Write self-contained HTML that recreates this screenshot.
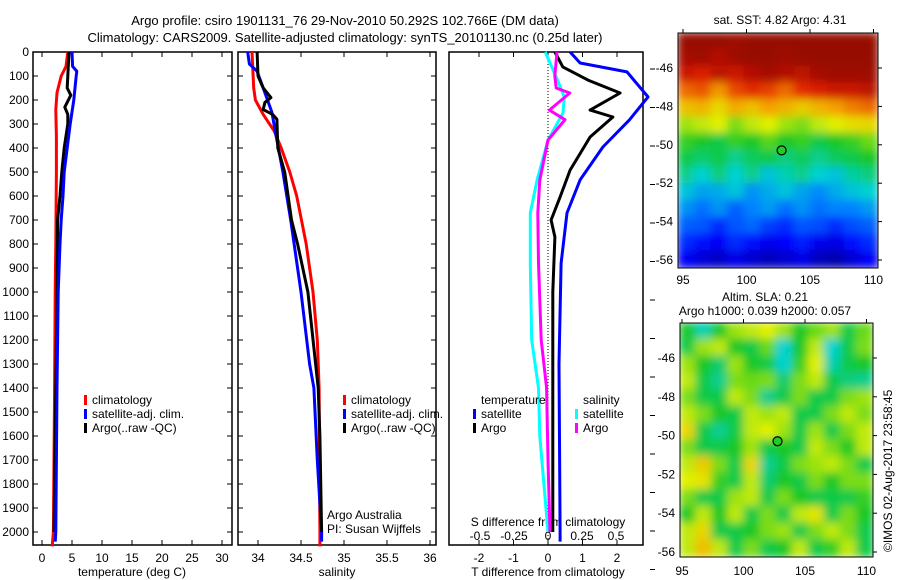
<!DOCTYPE html>
<html><head><meta charset="utf-8"><style>
body{margin:0;background:#fff;}
svg{display:block;font-family:"Liberation Sans",sans-serif;}
text{font-size:12px;fill:#000;}
</style></head><body>
<svg id="c" width="900" height="580" viewBox="0 0 900 580">
<defs>
<filter id="bl" filterUnits="userSpaceOnUse" x="650" y="0" width="260" height="580"><feGaussianBlur stdDeviation="4.5"/></filter>
<clipPath id="cm1"><rect x="678" y="33" width="200" height="235"/></clipPath>
<clipPath id="cm2"><rect x="680" y="323" width="193" height="234"/></clipPath>
</defs>
<text x="345" y="25" text-anchor="middle" style="font-size:13px">Argo profile: csiro 1901131_76 29-Nov-2010 50.292S 102.766E (DM data)</text>
<text x="345" y="42" text-anchor="middle" style="font-size:13px">Climatology: CARS2009. Satellite-adjusted climatology: synTS_20101130.nc (0.25d later)</text>
<text x="780" y="24" text-anchor="middle">sat. SST: 4.82 Argo: 4.31</text>
<text x="765" y="301" text-anchor="middle">Altim. SLA: 0.21</text>
<text x="765" y="315" text-anchor="middle">Argo h1000: 0.039 h2000: 0.057</text>
<text transform="translate(892,552) rotate(-90)">©IMOS 02-Aug-2017 23:58:45</text>
<g id="g"></g>
</svg>
<script>
// ---------- data ----------
const depthTicks=[0,100,200,300,400,500,600,700,800,900,1000,1100,1200,1300,1400,1500,1600,1700,1800,1900,2000];
const tempTicks=[0,5,10,15,20,25,30];
const salTicks=[34,34.5,35,35.5,36];
const tdTicks=[-2,-1,0,1,2];
const sdTicks=[-0.5,-0.25,0,0.25,0.5];
// temperature profiles [pressure, value]
const tempClimP=[0,60,100,170,240,350,500,800,1000,1400,2000,2060];
const tempClimV=[4.3,4.0,3.2,2.5,2.3,2.4,2.4,2.3,2.2,2.1,1.9,1.7];
const tempSatP=[0,60,80,100,200,300,400,500,600,700,800,1000,1400,2000,2040];
const tempSatV=[5.0,5.1,5.8,5.7,5.3,4.7,4.2,3.7,3.5,3.2,3.0,2.7,2.5,2.3,2.2];
const tempArgoP=[0,100,150,180,230,260,300,400,500,600,700,1000,1400,2000];
const tempArgoV=[4.5,4.3,4.2,4.8,3.8,4.3,4.3,3.7,3.3,3.0,2.6,2.5,2.3,2.0];
// salinity profiles
const salClimP=[0,150,200,260,330,400,500,600,800,1000,1200,1400,2000,2060];
const salClimV=[33.93,33.95,33.97,34.06,34.19,34.27,34.37,34.45,34.56,34.64,34.69,34.71,34.72,34.72];
const salSatP=[0,50,80,150,250,350,500,700,1000,1300,1400,1700,2000,2040];
const salSatV=[33.88,33.9,33.99,34.06,34.16,34.21,34.29,34.38,34.5,34.6,34.65,34.69,34.74,34.74];
const salArgoP=[0,100,150,190,210,240,260,280,400,500,700,800,1000,1400,1600,2000];
const salArgoV=[33.99,34.0,34.06,34.15,34.08,34.06,34.17,34.22,34.23,34.31,34.39,34.46,34.58,34.7,34.72,34.74];
// differences
const tdSatP=[0,46,83,187,283,396,533,671,880,1300,2000,2040];
const tdSatV=[0.64,0.93,2.29,2.9,2.36,1.59,0.93,0.55,0.38,0.32,0.35,0.35];
const tdArgoP=[0,62,117,171,242,271,354,492,604,700,771,1000,2000];
const tdArgoV=[0.2,0.43,1.16,2.09,1.22,1.88,1.22,0.64,0.35,0.09,0.2,0.14,0.14];
const sdSatP=[0,117,187,254,367,533,671,880,1200,1400,1600,2000];
const sdSatV=[-0.02,0.07,0.12,0.11,0,-0.08,-0.13,-0.13,-0.12,-0.07,-0.06,0];
const sdArgoP=[0,100,150,171,242,282,367,533,671,880,1200,1400,1700,2000];
const sdArgoV=[0.066,0.05,0.06,0.16,0.01,0.125,0.0,-0.06,-0.075,-0.07,-0.05,-0.01,0,0.015];
// maps (rows top->bottom, colormap index 0..1)
const sstGrid=[
[0.97,0.97,0.97,0.96,0.97,0.97,0.97,0.97,0.97,0.97,0.97,0.97],
[0.95,0.96,0.93,0.96,0.97,0.97,0.96,0.97,0.97,0.97,0.97,0.97],
[0.9,0.88,0.92,0.9,0.93,0.95,0.93,0.92,0.95,0.96,0.96,0.96],
[0.8,0.82,0.76,0.83,0.86,0.84,0.8,0.86,0.88,0.9,0.9,0.92],
[0.7,0.72,0.66,0.73,0.7,0.75,0.72,0.68,0.72,0.75,0.78,0.8],
[0.58,0.6,0.62,0.56,0.6,0.62,0.58,0.56,0.6,0.62,0.65,0.66],
[0.52,0.5,0.48,0.52,0.5,0.54,0.5,0.52,0.48,0.5,0.52,0.55],
[0.48,0.46,0.48,0.44,0.47,0.48,0.45,0.47,0.44,0.47,0.48,0.5],
[0.44,0.4,0.45,0.4,0.44,0.38,0.42,0.44,0.4,0.38,0.43,0.45],
[0.38,0.34,0.35,0.38,0.32,0.35,0.38,0.34,0.31,0.35,0.38,0.4],
[0.32,0.28,0.32,0.26,0.3,0.33,0.28,0.32,0.28,0.3,0.3,0.33],
[0.26,0.25,0.2,0.25,0.27,0.22,0.2,0.25,0.24,0.2,0.24,0.26],
[0.2,0.16,0.14,0.2,0.16,0.13,0.15,0.18,0.13,0.12,0.16,0.2],
[0.14,0.1,0.08,0.12,0.09,0.07,0.09,0.12,0.07,0.05,0.1,0.14]];
const slaGrid=[
[0.5,0.42,0.5,0.58,0.6,0.62,0.58,0.5,0.55,0.58,0.48,0.55],
[0.48,0.58,0.6,0.5,0.48,0.55,0.4,0.5,0.6,0.4,0.48,0.56],
[0.58,0.5,0.46,0.58,0.5,0.48,0.4,0.52,0.62,0.42,0.48,0.5],
[0.6,0.48,0.44,0.56,0.55,0.56,0.46,0.56,0.6,0.48,0.45,0.44],
[0.56,0.48,0.48,0.6,0.56,0.44,0.48,0.56,0.48,0.48,0.56,0.58],
[0.6,0.56,0.5,0.48,0.6,0.58,0.6,0.48,0.48,0.56,0.6,0.56],
[0.66,0.48,0.44,0.48,0.6,0.62,0.58,0.48,0.58,0.48,0.56,0.6],
[0.56,0.48,0.48,0.5,0.58,0.48,0.5,0.48,0.6,0.56,0.5,0.6],
[0.6,0.68,0.56,0.48,0.66,0.44,0.48,0.56,0.58,0.6,0.56,0.48],
[0.62,0.64,0.52,0.48,0.6,0.46,0.5,0.48,0.56,0.5,0.56,0.56],
[0.56,0.48,0.48,0.58,0.6,0.48,0.56,0.5,0.48,0.48,0.48,0.52],
[0.5,0.6,0.5,0.6,0.48,0.56,0.48,0.6,0.64,0.48,0.56,0.5],
[0.6,0.66,0.48,0.48,0.5,0.56,0.58,0.48,0.56,0.6,0.56,0.48],
[0.6,0.7,0.6,0.48,0.56,0.48,0.5,0.6,0.48,0.52,0.6,0.48]];
const floatLon=102.766, floatLat=-50.292;

// ---------- helpers ----------
const NS="http://www.w3.org/2000/svg";
const G=document.getElementById('g');
function el(t,a,p){const e=document.createElementNS(NS,t);for(const k in a)e.setAttribute(k,a[k]);(p||G).appendChild(e);return e;}
const yTop=52, yScale=0.24;
const yP=p=>yTop+p*yScale;
const panels=[
 {x0:33,x1:232,sx:v=>42+6*v,name:'temperature'},
 {x0:238,x1:436,sx:v=>258+86*(v-34),name:'salinity'},
 {x0:449,x1:643,sx:v=>548+34.5*v,name:'difference'}];
const sdX=v=>548+136*v;
const yB=545;
panels.forEach((pn,i)=>{
 const r=el('rect',{x:pn.x0,y:yTop,width:pn.x1-pn.x0,height:yB-yTop,fill:'none',stroke:'#000','stroke-width':1.5});
 
 
 if(i<2){depthTicks.forEach(d=>{el('line',{x1:pn.x0,x2:pn.x0+5,y1:yP(d),y2:yP(d),stroke:'#000'});el('line',{x1:pn.x1,x2:pn.x1-5,y1:yP(d),y2:yP(d),stroke:'#000'});});}
});
depthTicks.forEach(d=>{const t=el('text',{x:29,y:yP(d)+4,'text-anchor':'end'});t.textContent=d;
 
 });
function xticks(vals,f,pn,yl,name,top){vals.forEach(v=>{const x=f(v);
 el('line',{x1:x,x2:x,y1:yB,y2:yB-5,stroke:'#000'});if(top)el('line',{x1:x,x2:x,y1:yTop,y2:yTop+5,stroke:'#000'});
 const t=el('text',{x:x,y:yl,'text-anchor':'middle'});t.textContent=v;
 
 });}
xticks(tempTicks,panels[0].sx,0,562,'temperature-tick-label',true);
xticks(salTicks,panels[1].sx,1,562,'salinity-tick-label',true);
xticks(tdTicks,panels[2].sx,2,562,'t-diff-tick-label',true);
sdTicks.forEach(v=>{const t=el('text',{x:sdX(v),y:540,'text-anchor':'middle'});t.textContent=v;
 
 });
for(let k=0;k<14;k++){el('line',{x1:650,x2:655,y1:69+38.5*k,y2:69+38.5*k,stroke:'#000'});}
[['temperature (deg C)',132],['salinity',337],['T difference from climatology',548]].forEach(a=>{const t=el('text',{x:a[1],y:576,'text-anchor':'middle'});t.textContent=a[0];
 
 });
{const t=el('text',{x:548,y:526,'text-anchor':'middle'});t.textContent='S difference from climatology';
 
 }
el('line',{x1:548,x2:548,y1:yTop,y2:yB,stroke:'#000','stroke-dasharray':'1,2'});

function line(P,V,f,col,name){const d=P.map((p,i)=>(i?'L':'M')+f(V[i]).toFixed(1)+','+yP(p).toFixed(1)).join('');
 const e=el('path',{d:d,fill:'none',stroke:col,'stroke-width':3,'stroke-linejoin':'round'});
 
 }
line(tempClimP,tempClimV,panels[0].sx,'#f00','temp-climatology-line');
line(tempArgoP,tempArgoV,panels[0].sx,'#000','temp-argo-line');
line(tempSatP,tempSatV,panels[0].sx,'#00f','temp-satellite-line');
line(salClimP,salClimV,panels[1].sx,'#f00','sal-climatology-line');
line(salSatP,salSatV,panels[1].sx,'#00f','sal-satellite-line');
line(salArgoP,salArgoV,panels[1].sx,'#000','sal-argo-line');
line(tdSatP,tdSatV,panels[2].sx,'#00f','tdiff-satellite-line');
line(tdArgoP,tdArgoV,panels[2].sx,'#000','tdiff-argo-line');
line(sdSatP,sdSatV,sdX,'#0ff','sdiff-satellite-line');
line(sdArgoP,sdArgoV,sdX,'#f0f','sdiff-argo-line');

function legend(x,y,col,txt,name){el('rect',{x:x,y:y-9,width:3,height:10,fill:col});const t=el('text',{x:x+8,y:y});t.textContent=txt;
 
 }
[[84,'climatology','#f00'],[343,'climatology','#f00']].forEach(a=>legend(a[0],404,a[2],a[1],'legend-climatology'));
legend(84,418,'#00f','satellite-adj. clim.','legend-satellite');legend(343,418,'#00f','satellite-adj. clim.','legend-satellite');
legend(84,432,'#000','Argo(..raw -QC)','legend-argo');legend(343,432,'#000','Argo(..raw -QC)','legend-argo');
{const t=el('text',{x:481,y:404});t.textContent='temperature';
 
 }
{const t=el('text',{x:583,y:404});t.textContent='salinity';
 
 }
legend(473,418,'#00f','satellite','legend-t-satellite');legend(473,432,'#000','Argo','legend-t-argo');
legend(575,418,'#0ff','satellite','legend-s-satellite');legend(575,432,'#f0f','Argo','legend-s-argo');
{const t=el('text',{x:327,y:519});t.textContent='Argo Australia';
 
 }
{const t=el('text',{x:327,y:533});t.textContent='PI: Susan Wijffels';
 
 }

// colormap
const stops=[[0,[0,0,130]],[0.15,[0,0,255]],[0.3,[0,130,255]],[0.4,[0,210,210]],[0.5,[20,200,40]],[0.62,[225,240,0]],[0.75,[245,160,0]],[0.87,[225,30,0]],[1,[128,0,0]]];
function cmap(v){for(let i=1;i<stops.length;i++){if(v<=stops[i][0]){const a=stops[i-1],b=stops[i],t=(v-a[0])/(b[0]-a[0]);return 'rgb('+a[1].map((c,j)=>Math.round(c+(b[1][j]-c)*t)).join(',')+')';}}return 'rgb(128,0,0)';}
function map(grid,x0,y0,w,h,clip,name,lonX,latY,lonLabels,latLabels,ly){
 const gc=el('g',{'clip-path':'url(#'+clip+')'});const gb=el('g',{filter:'url(#bl)'},gc);
 const R=grid.length,C=grid[0].length,cw=w/C,ch=h/R;
 grid.forEach((row,r)=>row.forEach((v,c)=>{const e=el('rect',{x:x0+c*cw-1,y:y0+r*ch-1,width:cw+2,height:ch+2,fill:cmap(v)},gb);
  
  }));
 el('rect',{x:x0,y:y0,width:w,height:h,fill:'none',stroke:'#000'});
 latLabels.forEach(l=>{const y=latY(l);el('line',{x1:x0+w,x2:x0+w+4,y1:y,y2:y,stroke:'#000'});const t=el('text',{x:x0-5,y:y+4,'text-anchor':'end'});t.textContent=l;
  
  });
 lonLabels.forEach(l=>{const x=lonX(l);el('line',{x1:x,x2:x,y1:y0,y2:y0-4,stroke:'#000'});const t=el('text',{x:x,y:ly,'text-anchor':'middle'});t.textContent=l;
  
  });
 const d=el('circle',{cx:lonX(floatLon),cy:latY(floatLat),r:4.5,fill:'#22cc22',stroke:'#000','stroke-width':1.2});
 
 
}
const lon1=l=>683+(l-95)*12.7, lat1=l=>68+(-46-l)*19.2;
const lon2=l=>682+(l-95)*12.3, lat2=l=>358+(-46-l)*19.4;
map(sstGrid,678,33,200,235,'cm1','sst-map',lon1,lat1,[95,100,105,110],[-46,-48,-50,-52,-54,-56],284);
map(slaGrid,680,323,193,234,'cm2','sla-map',lon2,lat2,[95,100,105,110],[-46,-48,-50,-52,-54,-56],575);
</script>
</body></html>
